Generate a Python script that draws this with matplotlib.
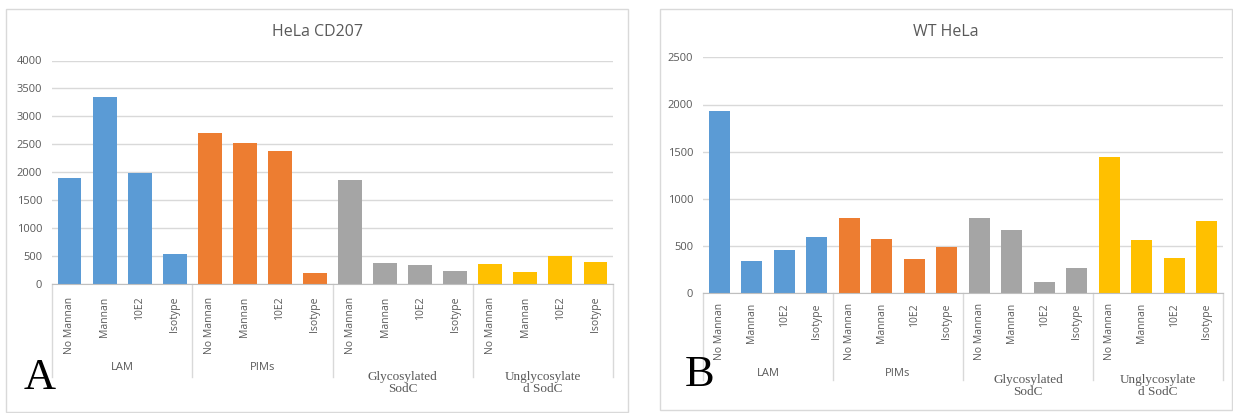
import numpy as np
import matplotlib
matplotlib.use('Agg')
import matplotlib.pyplot as plt
from matplotlib.patches import Rectangle

# --------------------------
# Data
# --------------------------
conditions = ['No Mannan', 'Mannan', '10E2', 'Isotype']
groups = ['LAM', 'PIMs', 'Glycosylated\nSodC', 'Unglycosylate\nd SodC']
group_colors = ['#5B9BD5', '#ED7D31', '#A5A5A5', '#FFC000']

hela_cd207 = [
    [1890, 3340, 1980, 540],   # LAM
    [2710, 2520, 2380, 190],   # PIMs
    [1860, 380, 340, 230],     # Glycosylated SodC
    [360, 215, 500, 395],      # Unglycosylated SodC
]
wt_hela = [
    [1930, 340, 455, 600],
    [800, 575, 360, 490],
    [800, 670, 120, 265],
    [1440, 565, 370, 770],
]

# --------------------------
# Figure setup (pixel based layout)
# --------------------------
W, H = 1233, 413
fig = plt.figure(figsize=(W / 100, H / 100), dpi=100)
fig.patch.set_facecolor('white')

TEXT_GREY = '#595959'
GRID_GREY = '#D9D9D9'
AXIS_GREY = '#BFBFBF'
SANS = ['Open Sans', 'DejaVu Sans']
SERIF = ['Liberation Serif', 'DejaVu Serif']


def px_rect(left, top, right, bottom):
    return [left / W, 1 - bottom / H, (right - left) / W, (bottom - top) / H]


def draw_panel(values, title, ymax, ax_box, frame_box, title_y, letter, letter_xy,
               sep_px, group_px, label_pad, bar_width):
    left, top, right, bottom = ax_box
    ax_h = bottom - top

    # chart frame
    fl, ft, fr, fb = frame_box
    fig.patches.append(Rectangle((fl / W, 1 - fb / H), (fr - fl) / W, (fb - ft) / H,
                                 transform=fig.transFigure, fill=False,
                                 edgecolor=GRID_GREY, linewidth=1.0))

    ax = fig.add_axes(px_rect(*ax_box))
    ax.set_facecolor('none')

    n = len(conditions)
    labels = []
    for gi, (grp_vals, col) in enumerate(zip(values, group_colors)):
        xs = np.arange(n) + gi * n
        ax.bar(xs, grp_vals, width=bar_width, color=col, zorder=3)
        labels += conditions

    ax.set_xlim(-0.5, len(labels) - 0.5)
    ax.set_ylim(0, ymax)
    ax.set_yticks(np.arange(0, ymax + 1, 500))
    ax.yaxis.grid(True, color=GRID_GREY, linewidth=1.0, zorder=0)
    ax.set_axisbelow(True)

    for s in ['top', 'right', 'left']:
        ax.spines[s].set_visible(False)
    ax.spines['bottom'].set_color(AXIS_GREY)
    ax.spines['bottom'].set_zorder(4)

    ax.set_xticks(np.arange(len(labels)))
    ax.set_xticklabels(labels, rotation=90, va='top', ha='center',
                       fontsize=7.5, color=TEXT_GREY, family=SANS)
    ax.tick_params(axis='x', length=0, pad=label_pad)
    ax.tick_params(axis='y', length=0, pad=7, labelsize=8, labelcolor=TEXT_GREY)
    for t in ax.get_yticklabels():
        t.set_family(SANS)

    # group separators of the two-level category axis
    sep_y = -(sep_px - bottom) / ax_h
    xt = ax.get_xaxis_transform()
    for k in range(len(groups) + 1):
        xb = k * n - 0.5
        ax.plot([xb, xb], [0, sep_y], transform=xt, color=GRID_GREY,
                linewidth=1.0, clip_on=False, zorder=1)

    # group labels
    for gi, name in enumerate(groups):
        xc = gi * n + (n - 1) / 2
        if '\n' in name:
            fam, fs, ypx = SERIF, 9.5, group_px[1]
        else:
            fam, fs, ypx = SANS, 8, group_px[0]
        ax.text(xc, -(ypx - bottom) / ax_h, name, transform=xt, ha='center',
                va='center', fontsize=fs, color=TEXT_GREY, family=fam,
                linespacing=1.05)

    # title, centred on the chart frame
    fig.text((fl + fr) / 2 / W, 1 - title_y / H, title, ha='center', va='center',
             fontsize=11.5, color=TEXT_GREY, family=SANS)

    # panel letter
    fig.text(letter_xy[0] / W, 1 - letter_xy[1] / H, letter, ha='left',
             va='baseline', fontsize=32, color='black', family=SERIF)
    return ax


draw_panel(hela_cd207, 'HeLa CD207', 4000,
           ax_box=(52, 60.5, 613, 284), frame_box=(6, 9, 628, 412),
           title_y=32, letter='A', letter_xy=(24, 389),
           sep_px=377, group_px=(368, 383), label_pad=9, bar_width=0.68)

draw_panel(wt_hela, 'WT HeLa', 2500,
           ax_box=(703, 57.3, 1223, 293.3), frame_box=(660, 9, 1232, 410),
           title_y=32, letter='B', letter_xy=(685, 386),
           sep_px=380, group_px=(373, 386), label_pad=7, bar_width=0.64)

fig.savefig('out.png', dpi=100, facecolor='white')
